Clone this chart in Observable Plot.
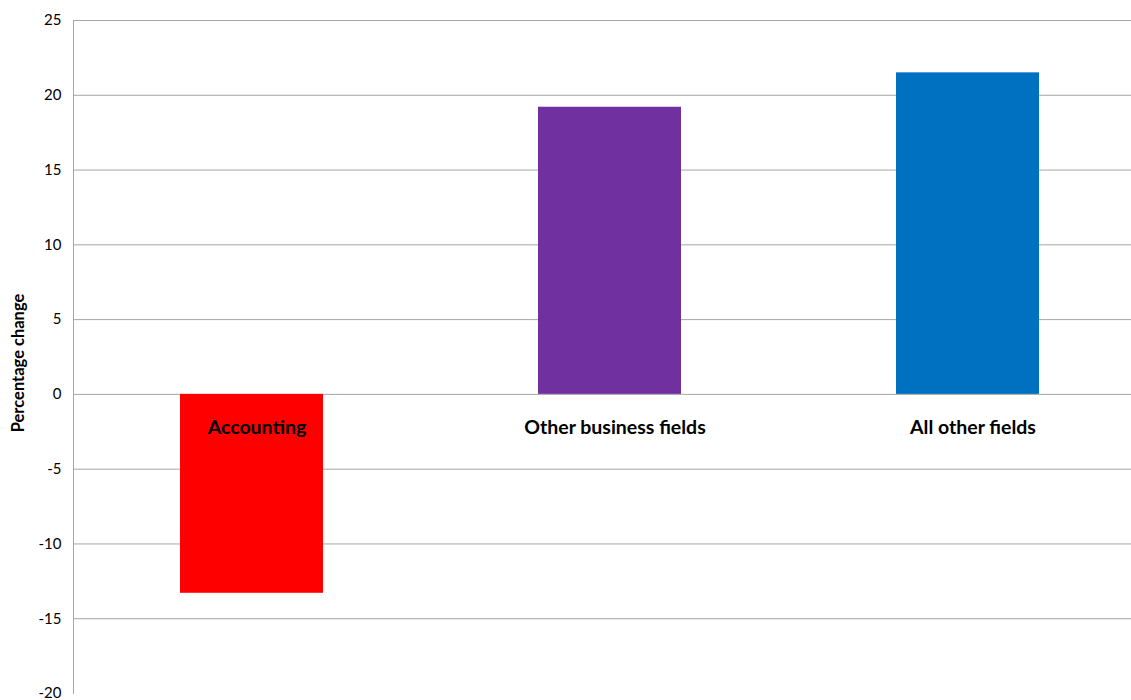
<!DOCTYPE html>
<html><head><meta charset="utf-8">
<script src="https://cdn.jsdelivr.net/npm/d3@7"></script>
<script src="https://cdn.jsdelivr.net/npm/@observablehq/plot@0.6"></script>
<style>body{margin:0;background:#fff}</style>
</head><body><div id="chart"></div>
<script>
const categories = ["Accounting", "Other business fields", "All other fields"];
const values = [-13.3, 19.2, 21.5];
const colors = ["#ff0000", "#7030a0", "#0070c0"];
const yTicks = [-20, -15, -10, -5, 0, 5, 10, 15, 20, 25];

const data = categories.map((c, i) => ({category: c, value: values[i], color: colors[i]}));
const font = "Lato, 'Open Sans', sans-serif";

const chart = Plot.plot({
  width: 1131, height: 700,
  marginLeft: 73, marginRight: 0, marginTop: 20, marginBottom: 7,
  style: {fontFamily: font, background: "#fff"},
  x: {domain: categories, range: [73, 1147], paddingInner: 0.6, paddingOuter: 0.3, axis: null},
  y: {domain: [-20, 25], axis: null},
  marks: [
    Plot.ruleY(yTicks.filter(t => t > -20), {stroke: "#a6a6a6", strokeWidth: 1}),
    Plot.frame({anchor: "left", stroke: "#a6a6a6"}),
    Plot.barY(data, {x: "category", y: "value", fill: "color"}),
    Plot.text(yTicks, {x: null, y: d => d, text: d => String(d), frameAnchor: "left", dx: -12, textAnchor: "end", fontSize: 15, fill: "#000"}),
    Plot.text(data, {x: "category", y: () => 0, text: "category", dy: 33, dx: 5, fontSize: 19.5, fontWeight: "bold", fill: "#000"}),
    Plot.text(["Percentage change"], {frameAnchor: "left", textAnchor: "middle", dx: -55, dy: 6, rotate: -90, fontSize: 16.5, fontWeight: "bold", fill: "#000"})
  ]
});
document.getElementById("chart").append(chart);
</script>
</body></html>
